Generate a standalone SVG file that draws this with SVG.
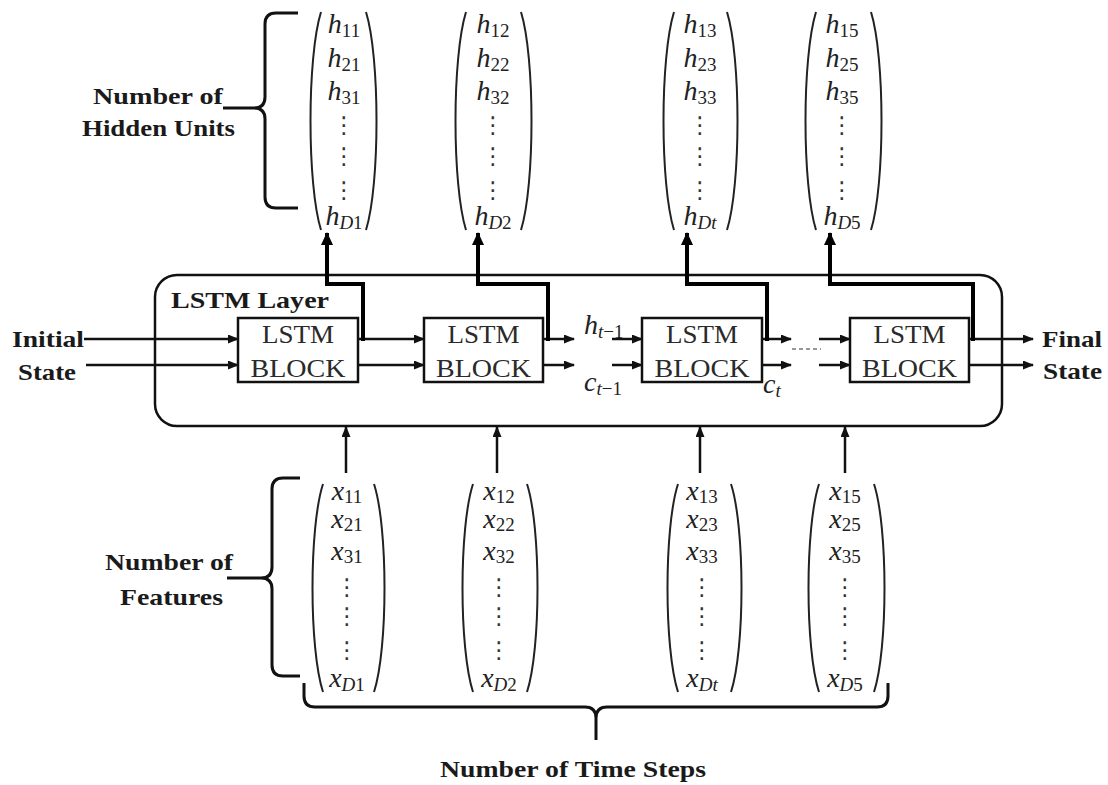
<svg xmlns="http://www.w3.org/2000/svg" width="1108" height="785" viewBox="0 0 1108 785">
<style>
.lbl{font-family:"Liberation Serif",serif;font-weight:bold;font-size:24px;fill:#1a1a1a}
.blk{font-family:"Liberation Serif",serif;font-size:25px;fill:#2a2a2a}
.m{font-family:"Liberation Serif",serif;font-style:italic;font-size:28px;fill:#222}
.s{font-style:normal;font-size:19px}
.si{font-style:italic;font-size:19px}
.d{font-family:"DejaVu Sans",sans-serif;font-size:23px;fill:#333}
.box{fill:#fff;stroke:#111;stroke-width:2.5}
.par{fill:none;stroke:#222;stroke-width:2}
.brace{fill:none;stroke:#111;stroke-width:3}
.ln{fill:none;stroke:#111;stroke-width:2.5}
.thick{fill:none;stroke:#000;stroke-width:4}
</style>
<defs>
<marker id="ah" markerUnits="userSpaceOnUse" markerWidth="11" markerHeight="9" refX="10" refY="4.5" orient="auto"><path d="M0,0 L11,4.5 L0,9 z" fill="#111"/></marker>
<marker id="ahT" markerUnits="userSpaceOnUse" markerWidth="13" markerHeight="12" refX="12" refY="6" orient="auto"><path d="M0,0 L13,6 L0,12 z" fill="#000"/></marker>
</defs>

<g id="layer">
<rect x="155" y="275" width="847" height="151" rx="22" fill="none" stroke="#111" stroke-width="2.5"/>
<text class="lbl" x="171" y="308" textLength="158" lengthAdjust="spacingAndGlyphs">LSTM Layer</text>
</g>

<g id="connectors">
<line class="ln" x1="84" y1="339" x2="238" y2="339" marker-end="url(#ah)"/>
<line class="ln" x1="86" y1="365" x2="238" y2="365" marker-end="url(#ah)"/>
<line class="ln" x1="358" y1="339" x2="424" y2="339" marker-end="url(#ah)"/>
<line class="ln" x1="358" y1="365" x2="424" y2="365" marker-end="url(#ah)"/>
<line class="ln" x1="543" y1="339" x2="574" y2="339" marker-end="url(#ah)"/>
<line class="ln" x1="543" y1="365" x2="574" y2="365" marker-end="url(#ah)"/>
<line class="ln" x1="612" y1="339" x2="642" y2="339" marker-end="url(#ah)"/>
<line class="ln" x1="612" y1="365" x2="642" y2="365" marker-end="url(#ah)"/>
<line class="ln" x1="762" y1="339" x2="791" y2="339" marker-end="url(#ah)"/>
<line class="ln" x1="762" y1="365" x2="791" y2="365" marker-end="url(#ah)"/>
<line x1="792" y1="349" x2="821" y2="349" stroke="#777" stroke-width="1.5" stroke-dasharray="4,3"/>
<line class="ln" x1="819" y1="339" x2="850" y2="339" marker-end="url(#ah)"/>
<line class="ln" x1="819" y1="365" x2="850" y2="365" marker-end="url(#ah)"/>
<line class="ln" x1="969" y1="339" x2="1033" y2="339" marker-end="url(#ah)"/>
<line class="ln" x1="969" y1="365" x2="1033" y2="365" marker-end="url(#ah)"/>
<path class="thick" d="M363,341 V284 H327 V233" marker-end="url(#ahT)"/>
<path class="thick" d="M548,341 V284 H478 V233" marker-end="url(#ahT)"/>
<path class="thick" d="M767,341 V284 H687 V233" marker-end="url(#ahT)"/>
<path class="thick" d="M973,341 V284 H830 V233" marker-end="url(#ahT)"/>
<line class="ln" x1="346" y1="473" x2="346" y2="427" marker-end="url(#ah)"/>
<line class="ln" x1="497" y1="473" x2="497" y2="427" marker-end="url(#ah)"/>
<line class="ln" x1="700" y1="473" x2="700" y2="427" marker-end="url(#ah)"/>
<line class="ln" x1="845" y1="473" x2="845" y2="427" marker-end="url(#ah)"/>
</g>

<g id="block1">
<rect class="box" x="238" y="318" width="120" height="64"/>
<text class="blk" x="298" y="343" text-anchor="middle" textLength="72" lengthAdjust="spacingAndGlyphs">LSTM</text>
<text class="blk" x="298" y="377" text-anchor="middle" textLength="95" lengthAdjust="spacingAndGlyphs">BLOCK</text>
</g>
<g id="block2">
<rect class="box" x="424" y="318" width="119" height="64"/>
<text class="blk" x="483.5" y="343" text-anchor="middle" textLength="72" lengthAdjust="spacingAndGlyphs">LSTM</text>
<text class="blk" x="483.5" y="377" text-anchor="middle" textLength="95" lengthAdjust="spacingAndGlyphs">BLOCK</text>
</g>
<g id="block3">
<rect class="box" x="642" y="318" width="120" height="64"/>
<text class="blk" x="702" y="343" text-anchor="middle" textLength="72" lengthAdjust="spacingAndGlyphs">LSTM</text>
<text class="blk" x="702" y="377" text-anchor="middle" textLength="95" lengthAdjust="spacingAndGlyphs">BLOCK</text>
</g>
<g id="block4">
<rect class="box" x="850" y="318" width="119" height="64"/>
<text class="blk" x="909.5" y="343" text-anchor="middle" textLength="72" lengthAdjust="spacingAndGlyphs">LSTM</text>
<text class="blk" x="909.5" y="377" text-anchor="middle" textLength="95" lengthAdjust="spacingAndGlyphs">BLOCK</text>
</g>

<g id="state-labels">
<text class="m" x="584" y="334">h<tspan class="si" dy="4">t</tspan><tspan class="s">−1</tspan></text>
<text class="m" x="584" y="391">c<tspan class="si" dy="4">t</tspan><tspan class="s">−1</tspan></text>
<text class="m" x="763" y="393">c<tspan class="si" dy="4">t</tspan></text>
</g>

<g id="io-labels">
<text class="lbl" x="12" y="347" textLength="72" lengthAdjust="spacingAndGlyphs">Initial</text>
<text class="lbl" x="18" y="380" textLength="58" lengthAdjust="spacingAndGlyphs">State</text>
<text class="lbl" x="1042" y="347" textLength="60" lengthAdjust="spacingAndGlyphs">Final</text>
<text class="lbl" x="1043" y="379" textLength="59" lengthAdjust="spacingAndGlyphs">State</text>
</g>

<g id="hidden-brace">
<path class="brace" d="M298,13 H276 Q265,13 265,24 V97 Q265,108 254,108 H223 M254,108 Q265,108 265,119 V197 Q265,208 276,208 H298"/>
<text class="lbl" x="93" y="104" textLength="130" lengthAdjust="spacingAndGlyphs">Number of</text>
<text class="lbl" x="82" y="136" textLength="153" lengthAdjust="spacingAndGlyphs">Hidden Units</text>
</g>

<g id="feature-brace">
<path class="brace" d="M300,478 H283 Q272,478 272,489 V567 Q272,578 261,578 H227 M261,578 Q272,578 272,589 V665 Q272,676 283,676 H300"/>
<text class="lbl" x="105" y="570" textLength="128" lengthAdjust="spacingAndGlyphs">Number of</text>
<text class="lbl" x="120" y="605" textLength="103" lengthAdjust="spacingAndGlyphs">Features</text>
</g>

<g id="time-brace">
<path class="brace" d="M304,683 V696 Q304,707 315,707 H585 Q596,707 596,718 V740 M596,718 Q596,707 607,707 H877 Q888,707 888,696 V683"/>
<text class="lbl" x="440" y="777" textLength="266" lengthAdjust="spacingAndGlyphs">Number of Time Steps</text>
</g>

<g id="h1">
<path class="par" d="M321,12 C307,57 307,185 321,230 M366,12 C380,57 380,185 366,230"/>
<text class="m" x="344" y="33" text-anchor="middle">h<tspan class="s" dy="4">11</tspan></text>
<text class="m" x="344" y="67" text-anchor="middle">h<tspan class="s" dy="4">21</tspan></text>
<text class="m" x="344" y="100" text-anchor="middle">h<tspan class="s" dy="4">31</tspan></text>
<text class="d" x="344" y="133" text-anchor="middle">⋮</text>
<text class="d" x="344" y="164" text-anchor="middle">⋮</text>
<text class="d" x="344" y="198" text-anchor="middle">⋮</text>
<text class="m" x="344" y="225" text-anchor="middle">h<tspan class="si" dy="4">D</tspan><tspan class="s">1</tspan></text>
</g>
<g id="h2">
<path class="par" d="M466,12 C452,57 452,185 466,230 M521,12 C535,57 535,185 521,230"/>
<text class="m" x="493" y="33" text-anchor="middle">h<tspan class="s" dy="4">12</tspan></text>
<text class="m" x="493" y="67" text-anchor="middle">h<tspan class="s" dy="4">22</tspan></text>
<text class="m" x="493" y="100" text-anchor="middle">h<tspan class="s" dy="4">32</tspan></text>
<text class="d" x="493" y="133" text-anchor="middle">⋮</text>
<text class="d" x="493" y="164" text-anchor="middle">⋮</text>
<text class="d" x="493" y="198" text-anchor="middle">⋮</text>
<text class="m" x="493" y="225" text-anchor="middle">h<tspan class="si" dy="4">D</tspan><tspan class="s">2</tspan></text>
</g>
<g id="h3">
<path class="par" d="M674,12 C660,57 660,185 674,230 M727,12 C741,57 741,185 727,230"/>
<text class="m" x="700" y="33" text-anchor="middle">h<tspan class="s" dy="4">13</tspan></text>
<text class="m" x="700" y="67" text-anchor="middle">h<tspan class="s" dy="4">23</tspan></text>
<text class="m" x="700" y="100" text-anchor="middle">h<tspan class="s" dy="4">33</tspan></text>
<text class="d" x="700" y="133" text-anchor="middle">⋮</text>
<text class="d" x="700" y="164" text-anchor="middle">⋮</text>
<text class="d" x="700" y="198" text-anchor="middle">⋮</text>
<text class="m" x="700" y="225" text-anchor="middle">h<tspan class="si" dy="4">Dt</tspan></text>
</g>
<g id="h4">
<path class="par" d="M816,12 C802,57 802,185 816,230 M871,12 C885,57 885,185 871,230"/>
<text class="m" x="842" y="33" text-anchor="middle">h<tspan class="s" dy="4">15</tspan></text>
<text class="m" x="842" y="67" text-anchor="middle">h<tspan class="s" dy="4">25</tspan></text>
<text class="m" x="842" y="100" text-anchor="middle">h<tspan class="s" dy="4">35</tspan></text>
<text class="d" x="842" y="133" text-anchor="middle">⋮</text>
<text class="d" x="842" y="164" text-anchor="middle">⋮</text>
<text class="d" x="842" y="198" text-anchor="middle">⋮</text>
<text class="m" x="842" y="225" text-anchor="middle">h<tspan class="si" dy="4">D</tspan><tspan class="s">5</tspan></text>
</g>

<g id="x1">
<path class="par" d="M323,484 C309,527 309,649 323,692 M374,484 C388,527 388,649 374,692"/>
<text class="m" x="347" y="500" text-anchor="middle">x<tspan class="s" dy="3">11</tspan></text>
<text class="m" x="347" y="528" text-anchor="middle">x<tspan class="s" dy="3">21</tspan></text>
<text class="m" x="347" y="560" text-anchor="middle">x<tspan class="s" dy="3">31</tspan></text>
<text class="d" x="347" y="595" text-anchor="middle">⋮</text>
<text class="d" x="347" y="624" text-anchor="middle">⋮</text>
<text class="d" x="347" y="658" text-anchor="middle">⋮</text>
<text class="m" x="347" y="687" text-anchor="middle">x<tspan class="si" dy="4">D</tspan><tspan class="s">1</tspan></text>
</g>
<g id="x2">
<path class="par" d="M473,484 C459,527 459,649 473,692 M527,484 C541,527 541,649 527,692"/>
<text class="m" x="499" y="500" text-anchor="middle">x<tspan class="s" dy="3">12</tspan></text>
<text class="m" x="499" y="528" text-anchor="middle">x<tspan class="s" dy="3">22</tspan></text>
<text class="m" x="499" y="560" text-anchor="middle">x<tspan class="s" dy="3">32</tspan></text>
<text class="d" x="499" y="595" text-anchor="middle">⋮</text>
<text class="d" x="499" y="624" text-anchor="middle">⋮</text>
<text class="d" x="499" y="658" text-anchor="middle">⋮</text>
<text class="m" x="499" y="687" text-anchor="middle">x<tspan class="si" dy="4">D</tspan><tspan class="s">2</tspan></text>
</g>
<g id="x3">
<path class="par" d="M678,484 C664,527 664,649 678,692 M731,484 C745,527 745,649 731,692"/>
<text class="m" x="702" y="500" text-anchor="middle">x<tspan class="s" dy="3">13</tspan></text>
<text class="m" x="702" y="528" text-anchor="middle">x<tspan class="s" dy="3">23</tspan></text>
<text class="m" x="702" y="560" text-anchor="middle">x<tspan class="s" dy="3">33</tspan></text>
<text class="d" x="702" y="595" text-anchor="middle">⋮</text>
<text class="d" x="702" y="624" text-anchor="middle">⋮</text>
<text class="d" x="702" y="658" text-anchor="middle">⋮</text>
<text class="m" x="702" y="687" text-anchor="middle">x<tspan class="si" dy="4">Dt</tspan></text>
</g>
<g id="x4">
<path class="par" d="M819,484 C805,527 805,649 819,692 M874,484 C888,527 888,649 874,692"/>
<text class="m" x="845" y="500" text-anchor="middle">x<tspan class="s" dy="3">15</tspan></text>
<text class="m" x="845" y="528" text-anchor="middle">x<tspan class="s" dy="3">25</tspan></text>
<text class="m" x="845" y="560" text-anchor="middle">x<tspan class="s" dy="3">35</tspan></text>
<text class="d" x="845" y="595" text-anchor="middle">⋮</text>
<text class="d" x="845" y="624" text-anchor="middle">⋮</text>
<text class="d" x="845" y="658" text-anchor="middle">⋮</text>
<text class="m" x="845" y="687" text-anchor="middle">x<tspan class="si" dy="4">D</tspan><tspan class="s">5</tspan></text>
</g>
</svg>
